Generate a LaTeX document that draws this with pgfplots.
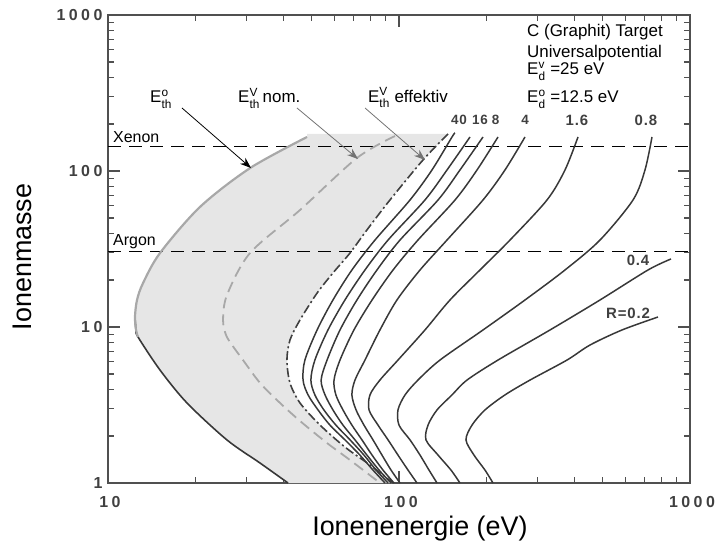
\documentclass[border=0pt]{standalone}
\usepackage{pgfplots}
\pgfplotsset{compat=1.18}
\usepackage{amsmath}
\usepackage{fontspec}
\setmainfont{Liberation Sans}
\newfontfamily\tickfont[LetterSpace=22]{Liberation Sans}
\newfontfamily\labfont[LetterSpace=6]{Liberation Sans}
\usetikzlibrary{arrows.meta}
\definecolor{curve}{HTML}{383838}
\definecolor{shade}{HTML}{E6E6E6}
\definecolor{lgray}{HTML}{A8A8A8}
\definecolor{axisc}{HTML}{505050}
\begin{document}
\begin{tikzpicture}
\useasboundingbox (-108bp,-60bp) rectangle (607bp,483bp);
\begin{axis}[
  at={(0,0)}, anchor=south west,
  scale only axis, width=582bp, height=468bp,
  xmode=log, ymode=log,
  xmin=10, xmax=1000, ymin=1, ymax=1000,
  xtick={10,100,1000}, xticklabels={10,100,1000},
  ytick={1,10,100,1000}, yticklabels={1,10,100,1000},
  minor xtick={20,30,40,50,60,70,80,90,200,300,400,500,600,700,800,900},
  minor ytick={2,3,4,5,6,7,8,9,20,30,40,50,60,70,80,90,200,300,400,500,600,700,800,900},
  tick align=inside,
  major tick length=12bp, minor tick length=6bp,
  tick style={axisc, line width=1.1pt},
  axis line style={axisc, line width=1.2pt},
  ticklabel style={font=\tickfont\bfseries\fontsize{16}{16}\selectfont, text=black!75},
  /pgf/number format/assume math mode=true,
  xticklabel style={yshift=-10bp, xshift=2bp},
  yticklabel style={xshift=-2bp},
  clip mode=individual,
]
% shaded region between E_th^o and E_th^V effektiv
\addplot[fill=shade, draw=none] coordinates {
 (41.56,1) (33.30,1.343) (25.64,1.887) (18.68,3.26) (15.09,5.30) (12.68,8.63) (12.48,9.57) (12.38,11.6) (12.58,14.9) (13.19,19.1) (15.09,29.8) (20.7,58.8) (30.8,104.5) (48.3,165.2) (48.3,172.7)
 (147.4,172.7) (120.9,117.6) (93.1,65.2) (77.6,41.9) (67.85,29.8) (59.3,22.2) (52.3,16.5) (45.68,11.09) (42.2,8.25) (41.2,6.14) (42.2,4.38) (45.68,3.26) (53.5,2.354) (65.2,1.70) (79.5,1.304) (95.4,1)
} -- cycle;
% Xenon / Argon
\addplot[black, line width=1pt, dash pattern=on 13bp off 8bp] coordinates {(10,144.6) (1000,144.6)};
\addplot[black, line width=1pt, dash pattern=on 13bp off 8bp] coordinates {(10,30.3) (1000,30.3)};
% E_th^o (black lower part, grey upper part)
\addplot[curve, line width=1.6pt, smooth, tension=0.5] coordinates {
 (12.38,11.6) (12.48,9.57) (12.68,8.63) (15.09,5.30) (18.68,3.26) (25.64,1.887) (33.30,1.343) (41.56,1)};
\addplot[lgray, line width=2.2pt, smooth, tension=0.5] coordinates {
 (48.3,165.2) (30.8,104.5) (20.7,58.8) (15.09,29.8) (13.19,19.1) (12.58,14.9) (12.38,11.6) (12.48,9.57) (12.68,8.63)};
% E_th^V nom
\addplot[lgray, line width=1.8pt, smooth, tension=0.5, dash pattern=on 11bp off 6bp] coordinates {
 (96.9,167.6) (71.7,121.2) (45.68,56.2) (30.76,29.8) (25.64,16.04) (24.85,11.09) (25.44,8.89) (26.68,7.67) (29.10,6.14) (33.30,4.38) (39.0,3.26) (45.68,2.50) (56.56,1.805) (67.85,1.404) (86.05,1)};
% E_th^V effektiv
\addplot[black!75, line width=1.6pt, smooth, tension=0.5, dash pattern=on 9bp off 3bp on 2bp off 3bp] coordinates {
 (147.4,172.7) (120.9,117.6) (93.1,65.2) (77.6,41.9) (67.85,29.8) (59.3,22.2) (52.3,16.5) (45.68,11.09) (42.2,8.25) (41.2,6.14) (42.2,4.38) (45.68,3.26) (53.5,2.354) (65.2,1.70) (79.5,1.304) (95.4,1)};
% R = 40
\addplot[curve, line width=1.5pt, smooth, tension=0.5] coordinates {
 (155.8,175.2) (152.1,165.2) (129.8,101.5) (109.1,65.2) (82.7,36.1) (68.9,23.2) (59.3,14.9) (52.3,9.57) (47.5,6.14) (46.8,4.57) (48.7,3.67) (52.7,2.94) (57.9,2.35) (65.2,1.89) (73.4,1.51) (81.4,1.21) (89.5,1)};
% R = 16
\addplot[curve, line width=1.5pt, smooth, tension=0.5] coordinates {
 (175.4,165.2) (146.2,101.5) (122.8,65.2) (91.7,36.1) (76.4,23.2) (65.2,14.9) (57.0,9.57) (51.4,6.14) (49.8,4.57) (51.4,3.67) (55.2,2.94) (60.7,2.35) (67.9,1.89) (75.8,1.51) (83.4,1.21) (91.7,1)};
% unlabelled
\addplot[curve, line width=1.5pt, smooth, tension=0.5] coordinates {
 (194.4,165.2) (162.0,101.5) (136.2,65.2) (100.8,36.1) (84.0,23.2) (71.7,14.9) (62.7,9.57) (56.6,6.14) (54.0,4.57) (55.7,3.67) (59.3,2.94) (64.2,2.35) (70.6,1.89) (77.6,1.51) (85.4,1.21) (93.9,1)};
% R = 8
\addplot[curve, line width=1.5pt, smooth, tension=0.5] coordinates {
 (218.9,165.2) (185.4,101.5) (155.8,65.2) (116.2,36.1) (95.4,23.2) (80.8,14.9) (70.0,9.57) (62.7,6.14) (59.8,4.57) (60.7,3.67) (64.2,2.94) (68.9,2.35) (74.6,1.89) (80.8,1.51) (88.1,1.21) (96.1,1)};
% R = 4
\addplot[curve, line width=1.5pt, smooth, tension=0.5] coordinates {
 (271.0,165.2) (231.3,101.5) (194.4,65.2) (146.2,36.1) (118.1,23.2) (98.4,14.9) (86.0,9.57) (76.4,6.14) (70.6,4.57) (68.9,3.67) (71.2,2.94) (75.8,2.35) (81.4,1.89) (87.4,1.51) (93.9,1.21) (100.8,1)};
% R = 1.6
\addplot[curve, line width=1.5pt, smooth, tension=0.5] coordinates {
 (412.2,165.2) (371.9,101.5) (322.6,65.2) (240.7,36.1) (189.8,23.2) (149.7,14.9) (122.8,9.57) (99.2,6.14) (86.0,4.57) (79.5,3.67) (78.9,2.94) (84.7,2.35) (91.7,1.89) (99.2,1.51) (107.4,1.21) (115.3,1)};
% R = 0.8
\addplot[curve, line width=1.5pt, smooth, tension=0.5] coordinates {
 (740.3,165.2) (700.4,101.5) (637.0,65.2) (490.6,36.1) (371.9,23.2) (271.0,14.9) (194.4,9.57) (138.3,6.14) (116.2,4.57) (104.9,3.67) (99.2,2.94) (100,2.35) (109.1,1.89) (118.1,1.51) (126.8,1.21) (135.1,1)};
% R = 0.4
\addplot[curve, line width=1.5pt, smooth, tension=0.5] coordinates {
 (860.5,27.3) (717.3,23.2) (490.6,14.9) (330.3,9.57) (218.9,6.14) (171.3,4.57) (152.1,3.67) (135.1,2.94) (125.8,2.35) (123.8,1.89) (136.2,1.51) (150.9,1.21) (162.0,1)};
% R = 0.2
\addplot[curve, line width=1.5pt, smooth, tension=0.5] coordinates {
 (776.3,11.59) (583.9,9.57) (453.3,7.665) (377.9,6.14) (282.0,4.57) (231.3,3.67) (197.5,2.94) (178.2,2.35) (169.9,1.89) (181.0,1.51) (197.5,1.21) (210.4,1)};
% arrows
\draw[black, line width=0.8pt, -{Stealth[length=11bp,width=8bp]}] (rel axis cs:0.1271,0.8013) -- (rel axis cs:0.2457,0.6731);
\draw[black!55, line width=0.8pt, -{Stealth[length=11bp,width=8bp]}] (rel axis cs:0.3247,0.8013) -- (rel axis cs:0.4296,0.6923);
\draw[black!55, line width=0.8pt, -{Stealth[length=11bp,width=8bp]}] (rel axis cs:0.4416,0.8013) -- (rel axis cs:0.5447,0.6902);
% arrow labels
\node[anchor=base west, font=\fontsize{17}{17}\selectfont, inner sep=0] at (rel axis cs:0.0722,0.812) {E$_{\text{th}}^{\text{o}}$};
\node[anchor=base west, font=\fontsize{17}{17}\selectfont, inner sep=0] at (rel axis cs:0.2234,0.812) {E$_{\text{th}}^{\text{V}}$\,nom.};
\node[anchor=base west, font=\fontsize{17}{17}\selectfont, inner sep=0] at (rel axis cs:0.4467,0.814) {E$_{\text{th}}^{\text{V}}$ effektiv};
% info block
\node[anchor=base west, font=\fontsize{17}{17}\selectfont, inner sep=0] at (rel axis cs:0.72,0.953) {C (Graphit) Target};
\node[anchor=base west, font=\fontsize{17}{17}\selectfont, inner sep=0] at (rel axis cs:0.72,0.910) {Universalpotential};
\node[anchor=base west, font=\fontsize{17}{17}\selectfont, inner sep=0] at (rel axis cs:0.72,0.872) {E$_{\text{d}}^{\text{v}}$ =25 eV};
\node[anchor=base west, font=\fontsize{17}{17}\selectfont, inner sep=0] at (rel axis cs:0.72,0.812) {E$_{\text{d}}^{\text{o}}$ =12.5 eV};
% Xenon / Argon
\node[anchor=base west, font=\fontsize{16}{16}\selectfont, inner sep=0] at (rel axis cs:0.0086,0.7265) {Xenon};
\node[anchor=base west, font=\fontsize{16}{16}\selectfont, inner sep=0] at (rel axis cs:0.0086,0.5085) {Argon};
% curve labels
\begin{scope}[every node/.style={font=\labfont\bfseries\fontsize{13.5}{14}\selectfont, text=black!75, inner sep=0}]
\node at (rel axis cs:0.6031,0.7756) {40};
\node at (rel axis cs:0.6392,0.7756) {16};
\node at (rel axis cs:0.6658,0.7756) {8};
\node at (rel axis cs:0.7165,0.7756) {4};
\end{scope}
\begin{scope}[every node/.style={font=\labfont\bfseries\fontsize{15}{15}\selectfont, text=black!75, inner sep=0}]
\node at (rel axis cs:0.8058,0.7756) {1.6};
\node at (rel axis cs:0.9244,0.7756) {0.8};
\node at (rel axis cs:0.9107,0.4765) {0.4};
\node at (rel axis cs:0.8935,0.3632) {R=0.2};
\end{scope}
% axis labels
\node[anchor=base, font=\fontsize{27}{27}\selectfont] at (rel axis cs:0.536,-0.1132) {Ionenenergie (eV)};
\node[anchor=base, rotate=90, font=\fontsize{27}{27}\selectfont] at (rel axis cs:-0.1306,0.483) {Ionenmasse};
\end{axis}
\end{tikzpicture}
\end{document}
